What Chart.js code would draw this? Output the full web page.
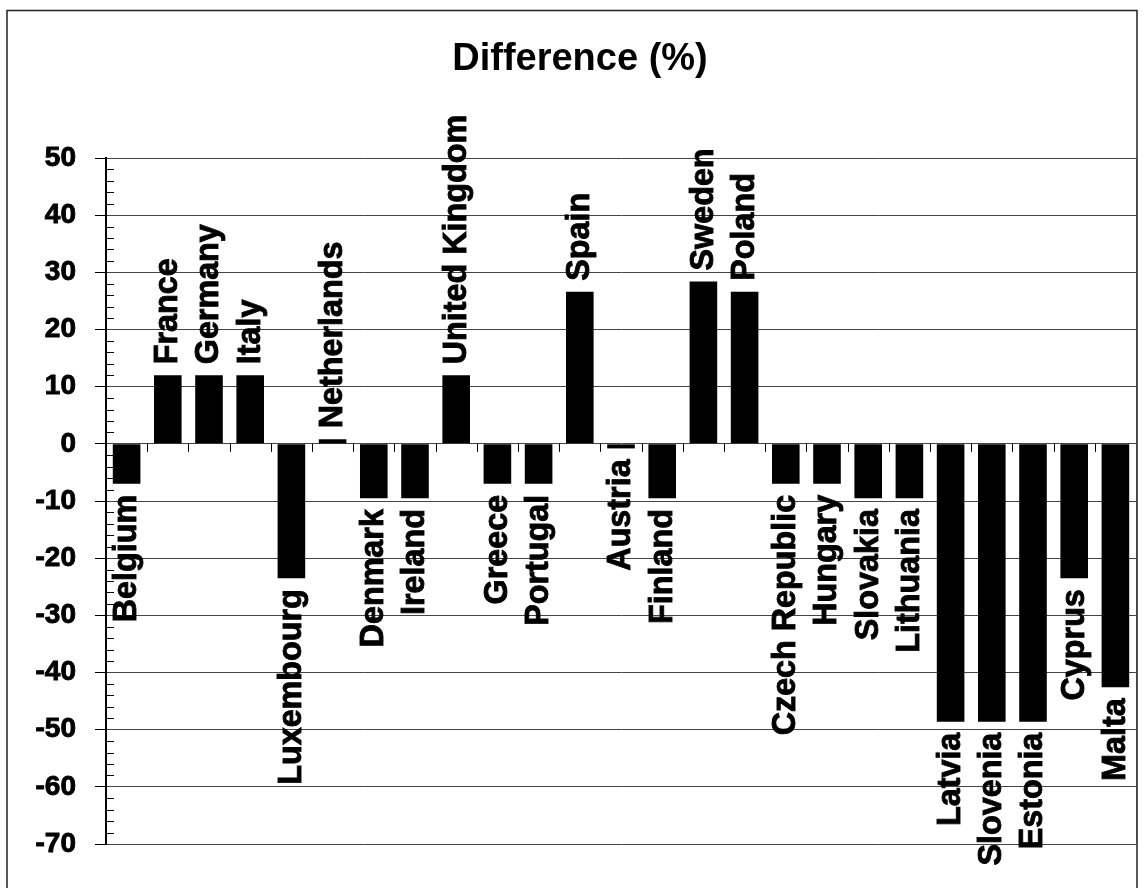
<!DOCTYPE html>
<html>
<head>
<meta charset="utf-8">
<script src="https://cdn.jsdelivr.net/npm/chart.js@4.4.1/dist/chart.umd.min.js"></script>
<style>
html,body{margin:0;padding:0;background:#fff;}
#wrap{width:1144px;height:888px;position:relative;}
</style>
</head>
<body>
<div id="wrap"><canvas id="c"></canvas></div>
<script>
const titleText = 'Difference (%)';
const countries = ['Belgium','France','Germany','Italy','Luxembourg','Netherlands','Denmark','Ireland','United Kingdom','Greece','Portugal','Spain','Austria','Finland','Sweden','Poland','Czech Republic','Hungary','Slovakia','Lithuania','Latvia','Slovenia','Estonia','Cyprus','Malta'];
const differences = [-7, 12, 12, 12, -23.5, 0.8, -9.5, -9.5, 12, -7, -7, 26.6, -0.8, -9.5, 28.4, 26.6, -7, -7, -9.5, -9.5, -48.6, -48.6, -48.6, -23.5, -42.6];
const yMin = -70, yMax = 50, yStep = 10, minorStep = 2;

const framePlugin = {
  id: 'frame',
  beforeDraw(chart) {
    const ctx = chart.ctx;
    ctx.save();
    ctx.fillStyle = '#fff';
    ctx.fillRect(0, 0, chart.width, chart.height);
    ctx.strokeStyle = '#222';
    ctx.lineWidth = 1.5;
    ctx.strokeRect(7, 10.5, 1130, 900);
    ctx.restore();
  }
};

const axisExtras = {
  id: 'axisExtras',
  beforeDatasetsDraw(chart) {
    const ctx = chart.ctx, y = chart.scales.y, x = chart.scales.x, a = chart.chartArea;
    ctx.save();
    ctx.strokeStyle = '#000';
    ctx.lineWidth = 1;
    for (let v = yMin; v <= yMax; v += minorStep) {
      if (v % yStep === 0) continue;
      const py = Math.round(y.getPixelForValue(v)) + 0.5;
      ctx.beginPath(); ctx.moveTo(a.left, py); ctx.lineTo(a.left + 8, py); ctx.stroke();
    }
    const z = y.getPixelForValue(0);
    for (let i = 1; i < countries.length; i++) {
      const px = Math.round((x.getPixelForValue(i - 1) + x.getPixelForValue(i)) / 2) + 0.5;
      ctx.beginPath(); ctx.moveTo(px, z); ctx.lineTo(px, z + 8); ctx.stroke();
    }
    ctx.strokeStyle = '#444';
    ctx.beginPath(); ctx.moveTo(a.right + 0.5, a.top); ctx.lineTo(a.right + 0.5, a.bottom); ctx.stroke();
    ctx.restore();
  }
};

const barLabels = {
  id: 'barLabels',
  afterDatasetsDraw(chart) {
    const ctx = chart.ctx;
    const meta = chart.getDatasetMeta(0);
    ctx.save();
    ctx.fillStyle = '#000';
    ctx.strokeStyle = '#000';
    ctx.lineWidth = 0.9;
    ctx.font = 'bold 34px "Liberation Sans", Arial, sans-serif';
    ctx.textBaseline = 'middle';
    meta.data.forEach((el, i) => {
      const v = differences[i];
      ctx.save();
      ctx.translate(el.x, v >= 0 ? el.y - 11 : el.y + 11);
      ctx.rotate(-Math.PI / 2);
      ctx.scale(0.95, 1);
      ctx.textAlign = v >= 0 ? 'left' : 'right';
      ctx.fillText(countries[i], 0, 0);
      ctx.strokeText(countries[i], 0, 0);
      ctx.restore();
    });
    ctx.restore();
  }
};

new Chart(document.getElementById('c'), {
  type: 'bar',
  data: {
    labels: countries,
    datasets: [{
      data: differences,
      backgroundColor: '#000',
      borderWidth: 0,
      barPercentage: 0.67,
      categoryPercentage: 1.0
    }]
  },
  options: {
    responsive: true,
    maintainAspectRatio: false,
    animation: false,
    layout: { padding: { left: 24, right: 8, top: 0, bottom: 44 } },
    plugins: {
      legend: { display: false },
      tooltip: { enabled: false },
      title: {
        display: true,
        text: titleText,
        color: '#000',
        font: { family: '"Liberation Sans", Arial, sans-serif', size: 38, weight: 'bold', lineHeight: 1.2 },
        padding: { top: 37, bottom: 75.4 }
      }
    },
    scales: {
      x: { display: false },
      y: {
        min: yMin, max: yMax,
        afterFit(scale) { scale.width = 82; },
        ticks: {
          stepSize: yStep,
          color: '#000',
          padding: 19,
          textStrokeColor: '#000',
          textStrokeWidth: 0.9,
          font: { family: '"Liberation Sans", Arial, sans-serif', size: 28, weight: 'bold' }
        },
        grid: { color: '#444', lineWidth: 1, tickLength: 11, drawTicks: true, tickColor: '#000' },
        border: { display: true, color: '#000', width: 2 }
      }
    }
  },
  plugins: [framePlugin, axisExtras, barLabels]
});
</script>
</body>
</html>
